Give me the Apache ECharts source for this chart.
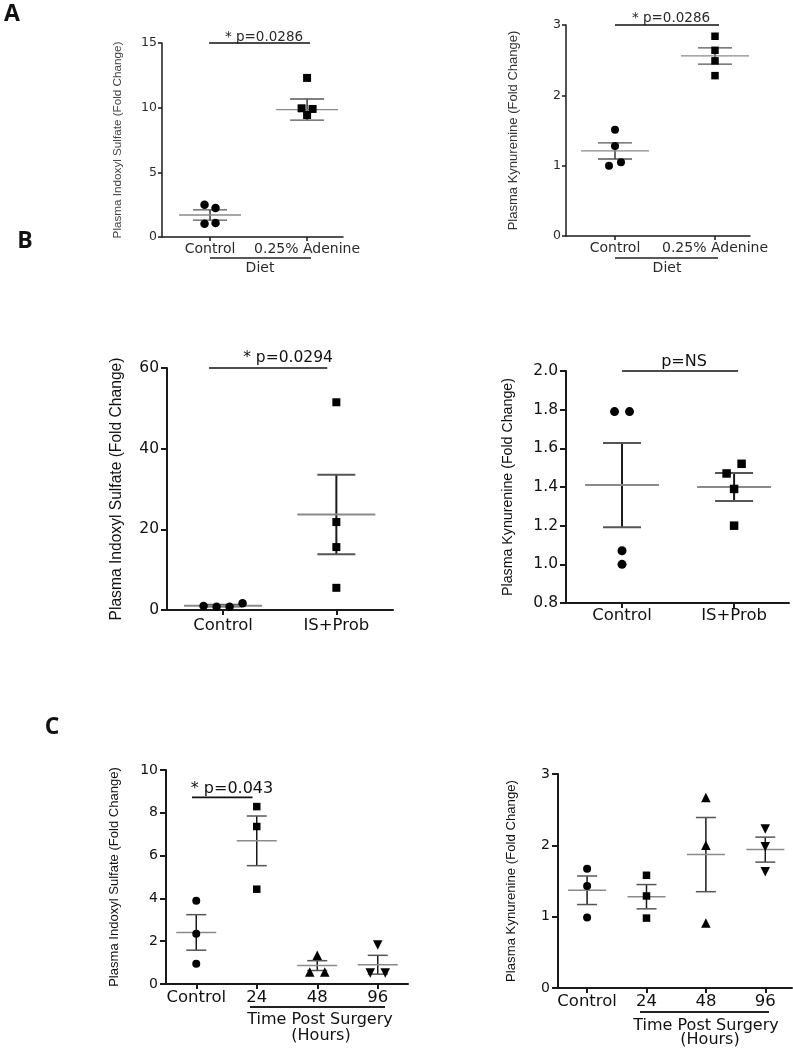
<!DOCTYPE html>
<html><head><meta charset="utf-8">
<script src="https://cdn.jsdelivr.net/npm/echarts@6/dist/echarts.min.js"></script>
<style>html,body{margin:0;padding:0;background:#fff}#chart{width:793px;height:1050px}</style>
</head><body><div id="chart"></div>
<script>
// ================= DATA =================
const A1_categories = ['Control', '0.25% Adenine'];
const A1_control = [2.50, 2.24, 1.03, 1.08];
const A1_adenine = [12.30, 9.95, 9.90, 9.43];
const A1_mean = [1.70, 9.85];
const A1_sem = [0.40, 0.82];

const A2_categories = ['Control', '0.25% Adenine'];
const A2_control = [1.51, 1.28, 1.00, 1.05];
const A2_adenine = [2.84, 2.64, 2.49, 2.28];
const A2_mean = [1.21, 2.56];
const A2_sem = [0.115, 0.115];

const B1_categories = ['Control', 'IS+Prob'];
const B1_control = [0.99, 0.83, 0.83, 1.66];
const B1_isprob = [51.5, 21.8, 15.6, 5.5];
const B1_mean = [1.08, 23.7];
const B1_sem = [0.20, 9.85];

const B2_categories = ['Control', 'IS+Prob'];
const B2_control = [1.79, 1.79, 1.07, 1.00];
const B2_isprob = [1.47, 1.52, 1.39, 1.20];
const B2_mean = [1.41, 1.40];
const B2_sem = [0.218, 0.072];

const C_categories = ['Control', '24', '48', '96'];
const C1_control = [3.89, 2.35, 0.95];
const C1_h24 = [8.29, 7.36, 4.43];
const C1_h48 = [1.34, 0.56, 0.56];
const C1_h96 = [1.82, 0.51, 0.51];
const C1_mean = [2.41, 6.69, 0.86, 0.90];
const C1_sem = [0.83, 1.16, 0.23, 0.44];

const C2_control = [1.67, 1.43, 0.99];
const C2_h24 = [1.58, 1.29, 0.98];
const C2_h48 = [2.67, 2.00, 0.91];
const C2_h96 = [2.23, 1.98, 1.63];
const C2_mean = [1.37, 1.28, 1.87, 1.94];
const C2_sem = [0.20, 0.17, 0.52, 0.175];

const Y_TITLE_IS = 'Plasma Indoxyl Sulfate (Fold Change)';
const Y_TITLE_KYN = 'Plasma Kynurenine (Fold Change)';

// ================= LAYOUT / STYLE =================
const HFONT = '"DejaVu Sans", sans-serif';

// pick a narrow face for the rotated titles if one is installed
const mctx = document.createElement('canvas').getContext('2d');
function measure(font, text) { mctx.font = font; return mctx.measureText(text).width; }
const probe = 'Plasma Indoxyl Sulfate (Fold Change) WWWiii';
const hasNarrow = measure('40px "Liberation Sans Narrow", monospace', probe) !== measure('40px monospace', probe);
const VFONT = hasNarrow ? '"Liberation Sans Narrow"' : '"Liberation Sans"';
function sizeForLength(text, len) { return len / measure('100px ' + VFONT, text) * 100; }

const DOWN = 'triangle-down';

const panels = [
  { cats: A1_categories, groups: [A1_control, A1_adenine], symbols: ['circle','rect'], mean: A1_mean, sem: A1_sem,
    grid: {left:162, top:43, width:181, height:194}, xMin:0.505, xMax:2.37, yMin:0, yMax:15, yInt:5,
    title: Y_TITLE_IS, titleLen:197, titleCX:117, tickSize:12.5, catSize:14, catMargin:5, labelMargin:5, tickLen:4, xTickLen:4,
    color:'#2a2a2a', titleColor:'#444', axisW:1.5, barW:1.3, meanHW:31, capHW:17, sym:8.5, thr:5, spacing:11,
    sig:{from:0.99, to:2.03, y:15} },
  { cats: A2_categories, groups: [A2_control, A2_adenine], symbols: ['circle','rect'], mean: A2_mean, sem: A2_sem,
    grid: {left:566, top:25, width:184, height:211}, xMin:0.51, xMax:2.35, yMin:0, yMax:3, yInt:1,
    title: Y_TITLE_KYN, titleLen:200, titleCX:512, tickSize:12.5, catSize:14, catMargin:5, labelMargin:5, tickLen:4, xTickLen:4,
    color:'#2a2a2a', titleColor:'#333', axisW:1.5, barW:1.3, meanHW:34, capHW:17, sym:8, thr:5, spacing:12,
    sig:{from:1.0, to:2.04, y:3} },
  { cats: B1_categories, groups: [B1_control, B1_isprob], symbols: ['circle','rect'], mean: B1_mean, sem: B1_sem,
    grid: {left:167, top:368, width:226, height:242}, xMin:0.505, xMax:2.5, yMin:0, yMax:60, yInt:20,
    title: Y_TITLE_IS, titleLen:263, titleCX:115, tickSize:15.5, catSize:16.5, catMargin:7, labelMargin:8, tickLen:6, xTickLen:5,
    color:'#111', titleColor:'#111', axisW:2, barW:2, meanHW:39, capHW:19, sym:8.5, thr:5, spacing:13,
    sig:{from:0.876, to:1.92, y:60} },
  { cats: B2_categories, groups: [B2_control, B2_isprob], symbols: ['circle','rect'], mean: B2_mean, sem: B2_sem,
    grid: {left:566, top:371, width:223, height:232}, xMin:0.5, xMax:2.49, yMin:0.8, yMax:2.0, yInt:0.2,
    title: Y_TITLE_KYN, titleLen:218, titleCX:507, tickSize:15.5, catSize:16.5, catMargin:4, labelMargin:8, tickLen:6, xTickLen:5,
    color:'#111', titleColor:'#111', axisW:2, barW:2, meanHW:37, capHW:19, sym:9, thr:12, spacing:15,
    sig:{from:1.0, to:2.036, y:2.0} },
  { cats: C_categories, groups: [C1_control, C1_h24, C1_h48, C1_h96], symbols: ['circle','rect','triangle',DOWN], mean: C1_mean, sem: C1_sem,
    grid: {left:166, top:770, width:242, height:214}, xMin:0.5, xMax:4.5, yMin:0, yMax:10, yInt:2,
    title: Y_TITLE_IS, titleLen:220, titleCX:113, tickSize:14, catSize:16.5, catMargin:5, labelMargin:8, tickLen:6, xTickLen:5,
    color:'#111', titleColor:'#111', axisW:2, barW:1.5, meanHW:20, capHW:10, sym:8, thr:8, spacing:15,
    sig:{from:0.93, to:1.93, y:8.72} },
  { cats: C_categories, groups: [C2_control, C2_h24, C2_h48, C2_h96], symbols: ['circle','rect','triangle',DOWN], mean: C2_mean, sem: C2_sem,
    grid: {left:558, top:774, width:234, height:214}, xMin:0.51, xMax:4.45, yMin:0, yMax:3, yInt:1,
    title: Y_TITLE_KYN, titleLen:202, titleCX:510, tickSize:14, catSize:16.5, catMargin:5, labelMargin:8, tickLen:6, xTickLen:5,
    color:'#111', titleColor:'#111', axisW:2, barW:1.5, meanHW:19, capHW:10, sym:8, thr:8, spacing:15,
    sig:null }
];

// beeswarm-style horizontal spreading of overlapping points (in pixel space)
function swarm(values, catX, pxPerY, pxPerX, thr, spacing) {
  const order = values.map((v, i) => i).sort((a, b) => values[b] - values[a]);
  const rows = [];
  order.forEach(i => {
    const last = rows[rows.length - 1];
    if (last && Math.abs(values[last[last.length - 1]] - values[i]) * pxPerY < thr) last.push(i);
    else rows.push([i]);
  });
  const out = new Array(values.length);
  rows.forEach(row => {
    row.sort((a, b) => a - b);
    row.forEach((i, k) => {
      out[i] = [catX + (k - (row.length - 1) / 2) * spacing / pxPerX, values[i]];
    });
  });
  return out;
}

const grids = [], xAxes = [], yAxes = [], series = [];
panels.forEach((p, pi) => {
  grids.push(Object.assign({ containLabel: false }, p.grid));
  const catVals = p.cats.map((c, i) => i + 1);
  const titleSize = sizeForLength(p.title, p.titleLen);
  const nameGap = p.grid.left - p.titleCX - titleSize * 0.6;
  xAxes.push({
    type: 'value', gridIndex: pi, min: p.xMin, max: p.xMax,
    axisLine: { show: true, onZero: false, lineStyle: { color: '#1a1a1a', width: p.axisW } },
    axisTick: { show: true, customValues: catVals, length: p.xTickLen, lineStyle: { color: '#1a1a1a', width: p.axisW } },
    axisLabel: { show: true, customValues: catVals, formatter: v => p.cats[Math.round(v) - 1],
      fontSize: p.catSize, fontFamily: HFONT, color: p.color, margin: p.catMargin },
    splitLine: { show: false }
  });
  yAxes.push({
    type: 'value', gridIndex: pi, min: p.yMin, max: p.yMax, interval: p.yInt,
    axisLine: { show: true, onZero: false, lineStyle: { color: '#1a1a1a', width: p.axisW } },
    axisTick: { show: true, length: p.tickLen, lineStyle: { color: '#1a1a1a', width: p.axisW } },
    axisLabel: { fontSize: p.tickSize, fontFamily: HFONT, color: p.color, margin: p.labelMargin,
      formatter: v => (p.yInt < 1 ? v.toFixed(1) : String(v)) },
    splitLine: { show: false },
    name: p.title, nameLocation: 'middle', nameRotate: 90, nameGap: nameGap,
    nameTextStyle: { fontSize: titleSize, fontFamily: VFONT, color: p.titleColor }
  });
  const pxPerY = p.grid.height / (p.yMax - p.yMin);
  const pxPerX = p.grid.width / (p.xMax - p.xMin);
  // error bars (mean ± SEM)
  series.push({
    type: 'custom', xAxisIndex: pi, yAxisIndex: pi, z: 2, clip: false,
    data: p.mean.map((m, i) => [i + 1, m, p.sem[i]]),
    renderItem: (params, api) => {
      const x = api.value(0), m = api.value(1), s = api.value(2);
      const c = api.coord([x, m]), t = api.coord([x, m + s]), b = api.coord([x, m - s]);
      const ln = (x1, y1, x2, y2, col) => ({ type: 'line', shape: { x1, y1, x2, y2 }, style: { stroke: col, lineWidth: p.barW } });
      return { type: 'group', children: [
        ln(c[0], t[1], c[0], b[1], '#1a1a1a'),
        ln(c[0] - p.capHW, t[1], c[0] + p.capHW, t[1], '#555'),
        ln(c[0] - p.capHW, b[1], c[0] + p.capHW, b[1], '#555'),
        ln(c[0] - p.meanHW, c[1], c[0] + p.meanHW, c[1], '#8a8a8a')
      ]};
    }
  });
  // individual points
  p.groups.forEach((vals, gi) => {
    const s = p.symbols[gi];
    const down = s === DOWN;
    series.push({
      type: 'scatter', xAxisIndex: pi, yAxisIndex: pi, z: 3,
      symbol: down ? 'triangle' : s,
      symbolSize: s === 'rect' ? p.sym - 0.5 : (s === 'circle' ? p.sym : p.sym + 1.5),
      symbolRotate: down ? 180 : 0,
      itemStyle: { color: '#000', opacity: 1 },
      data: swarm(vals, gi + 1, pxPerY, pxPerX, p.thr, p.spacing)
    });
  });
  // significance bracket
  if (p.sig) {
    series.push({
      type: 'line', xAxisIndex: pi, yAxisIndex: pi, z: 2, clip: false, showSymbol: false, symbol: 'none',
      lineStyle: { color: '#111', width: 1.6 },
      data: [[p.sig.from, p.sig.y], [p.sig.to, p.sig.y]]
    });
  }
});

const txt = (x, y, text, size, opts) => Object.assign({
  type: 'text', x, y,
  style: Object.assign({ text, fontSize: size, fontFamily: HFONT, fill: '#111', align: 'center', verticalAlign: 'middle' }, opts || {})
});
const hline = (x1, x2, y, w) => ({ type: 'line', shape: { x1, y1: y, x2, y2: y }, style: { stroke: '#222', lineWidth: w || 1.5 } });
const LETTER = { fontWeight: 'bold', fontFamily: '"Open Sans", "Liberation Sans", sans-serif' };

const graphic = [
  txt(12, 14, 'A', 23, LETTER),
  txt(25, 241, 'B', 23, LETTER),
  txt(52, 727, 'C', 23, LETTER),
  txt(264, 37, '* p=0.0286', 13.5, { fill: '#2a2a2a' }),
  txt(671, 18, '* p=0.0286', 13.5, { fill: '#2a2a2a' }),
  txt(288, 358, '* p=0.0294', 15.5),
  txt(684, 362, 'p=NS', 16),
  txt(232, 789, '* p=0.043', 16),
  hline(210, 311, 258), txt(260, 268, 'Diet', 14, { fill: '#2a2a2a' }),
  hline(615, 718, 258), txt(667, 268, 'Diet', 14, { fill: '#2a2a2a' }),
  hline(250, 385, 1007, 2), txt(320, 1020, 'Time Post Surgery', 16), txt(321, 1036, '(Hours)', 16),
  hline(640, 769, 1012, 2), txt(706, 1026, 'Time Post Surgery', 16), txt(710, 1040, '(Hours)', 16)
];

const chart = echarts.init(document.getElementById('chart'), null, { renderer: 'canvas' });
chart.setOption({
  animation: false,
  backgroundColor: '#fff',
  grid: grids, xAxis: xAxes, yAxis: yAxes, series, graphic
});
</script></body></html>
